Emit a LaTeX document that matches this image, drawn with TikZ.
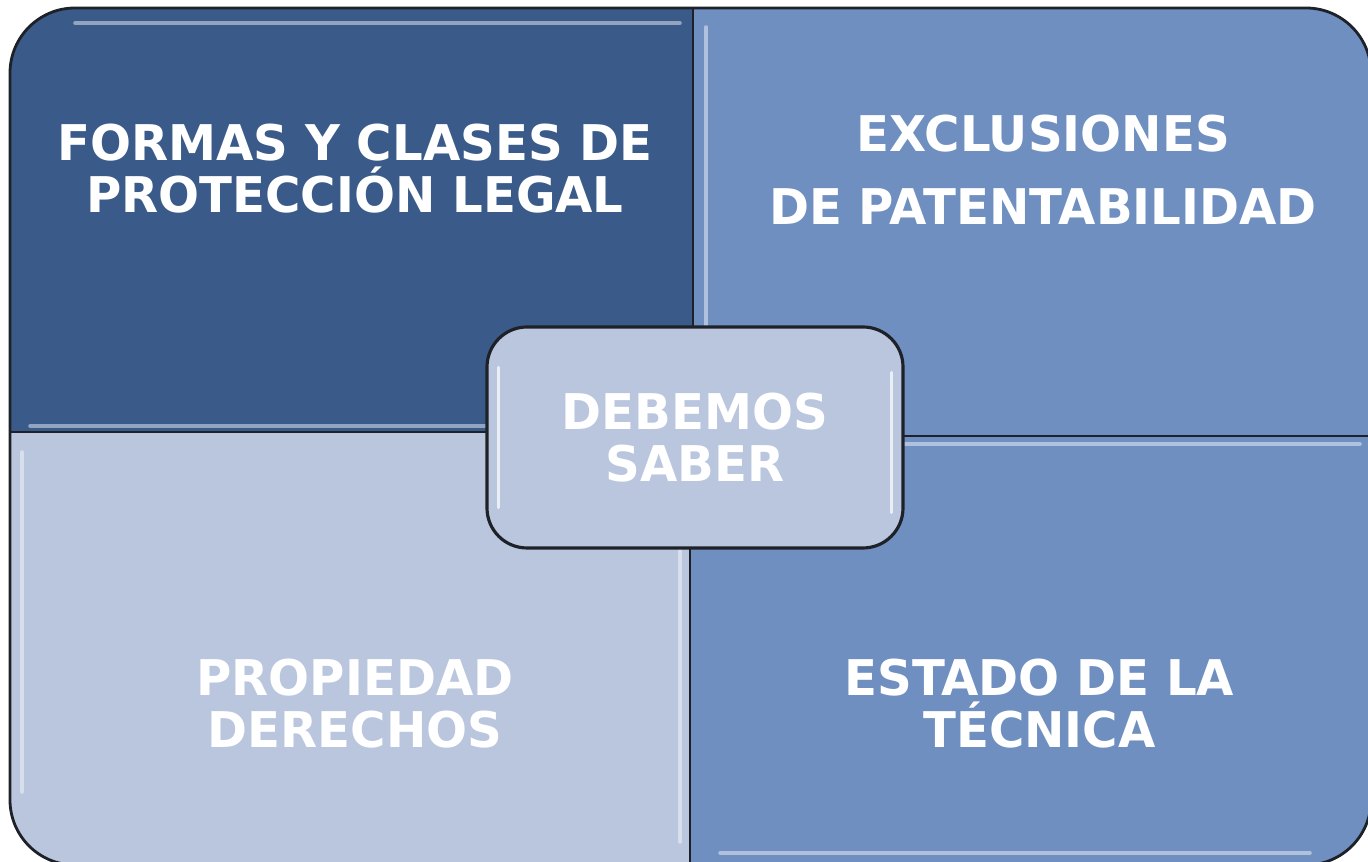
\documentclass[tikz,border=0pt]{standalone}
\usepackage{fontspec}
\newfontfamily\boxfont[FakeStretch=0.98]{DejaVu Sans Bold}
\usepackage{tikz}
\usetikzlibrary{calc}
\definecolor{darkblue}{HTML}{3A5B89}
\definecolor{midblue}{HTML}{6F8FC0}
\definecolor{paleblue}{HTML}{B9C6DE}
\definecolor{edgegrey}{HTML}{1E2228}
\tikzset{
label/.style={align=center,text=white,font=\boxfont\fontsize{28}{29.6}\selectfont,inner sep=0cm,anchor=center},
labelwide/.style={label,font=\boxfont\fontsize{28}{41.5}\selectfont},
outline/.style={edgegrey,line width=1.6pt},
divider/.style={edgegrey,line width=0.8pt},
shine/.style={white,opacity=0.45,line width=2pt,line cap=round},
hub/.style={rectangle,rounded corners=0.8cm,draw=edgegrey,line width=1.8pt,fill=paleblue,minimum width=8.32cm,minimum height=4.42cm,inner sep=0cm}
}
\begin{document}
\begin{tikzpicture}
    \useasboundingbox (0,0) rectangle (27.36,17.24);
    \newcommand{\corner}{1.3cm}
    %
    \begin{scope}
      \clip[rounded corners=\corner] (0.2,-0.06) rectangle (27.42,17.08);
      \fill[darkblue] (0.2,8.60) rectangle (13.86,17.08);
      \fill[midblue] (13.86,8.52) rectangle (27.42,17.08);
      \fill[paleblue] (0.2,-0.06) rectangle (13.80,8.60);
      \fill[midblue] (13.80,-0.06) rectangle (27.42,8.52);
      %
      \foreach \a / \b in {{1.5,16.78}/{13.6,16.78},{14.12,16.7}/{14.12,9.0},{0.44,8.2}/{0.44,1.4},{14.4,0.18}/{26.2,0.18},{0.6,8.72}/{13.5,8.72},{14.2,8.36}/{27.2,8.36},{13.6,8.2}/{13.6,0.4}}
      \draw[shine] (\a) -- (\b);
      %
      \draw[divider] (13.86,17.08) -- (13.86,8.56) -- (13.80,8.56) -- (13.80,-0.06);
      \draw[divider] (0.2,8.60) -- (13.86,8.60) -- (13.86,8.52) -- (27.42,8.52);
    \end{scope}
    \draw[outline,rounded corners=\corner] (0.2,-0.06) rectangle (27.42,17.08);
    %
    \node[label](formas) at (7.1,13.86) {FORMAS Y CLASES DE\\PROTECCIÓN LEGAL};
    \node[labelwide](exclusiones) at (20.86,13.84) {EXCLUSIONES\\DE PATENTABILIDAD};
    \node[label](propiedad) at (7.1,3.16) {PROPIEDAD\\DERECHOS};
    \node[label](estado) at (20.79,3.16) {ESTADO DE LA\\TÉCNICA};
    %
    \node[hub](centre) at (13.9,8.49) {};
    \draw[shine,opacity=0.7] ($(centre.west)+(0.26,1.4)$) -- ($(centre.west)+(0.26,-1.4)$);
    \draw[shine,opacity=0.7] ($(centre.east)+(-0.26,1.3)$) -- ($(centre.east)+(-0.26,-1.5)$);
    \node[label](debemos) at (centre) {DEBEMOS\\SABER};
  \end{tikzpicture}
\end{document}
